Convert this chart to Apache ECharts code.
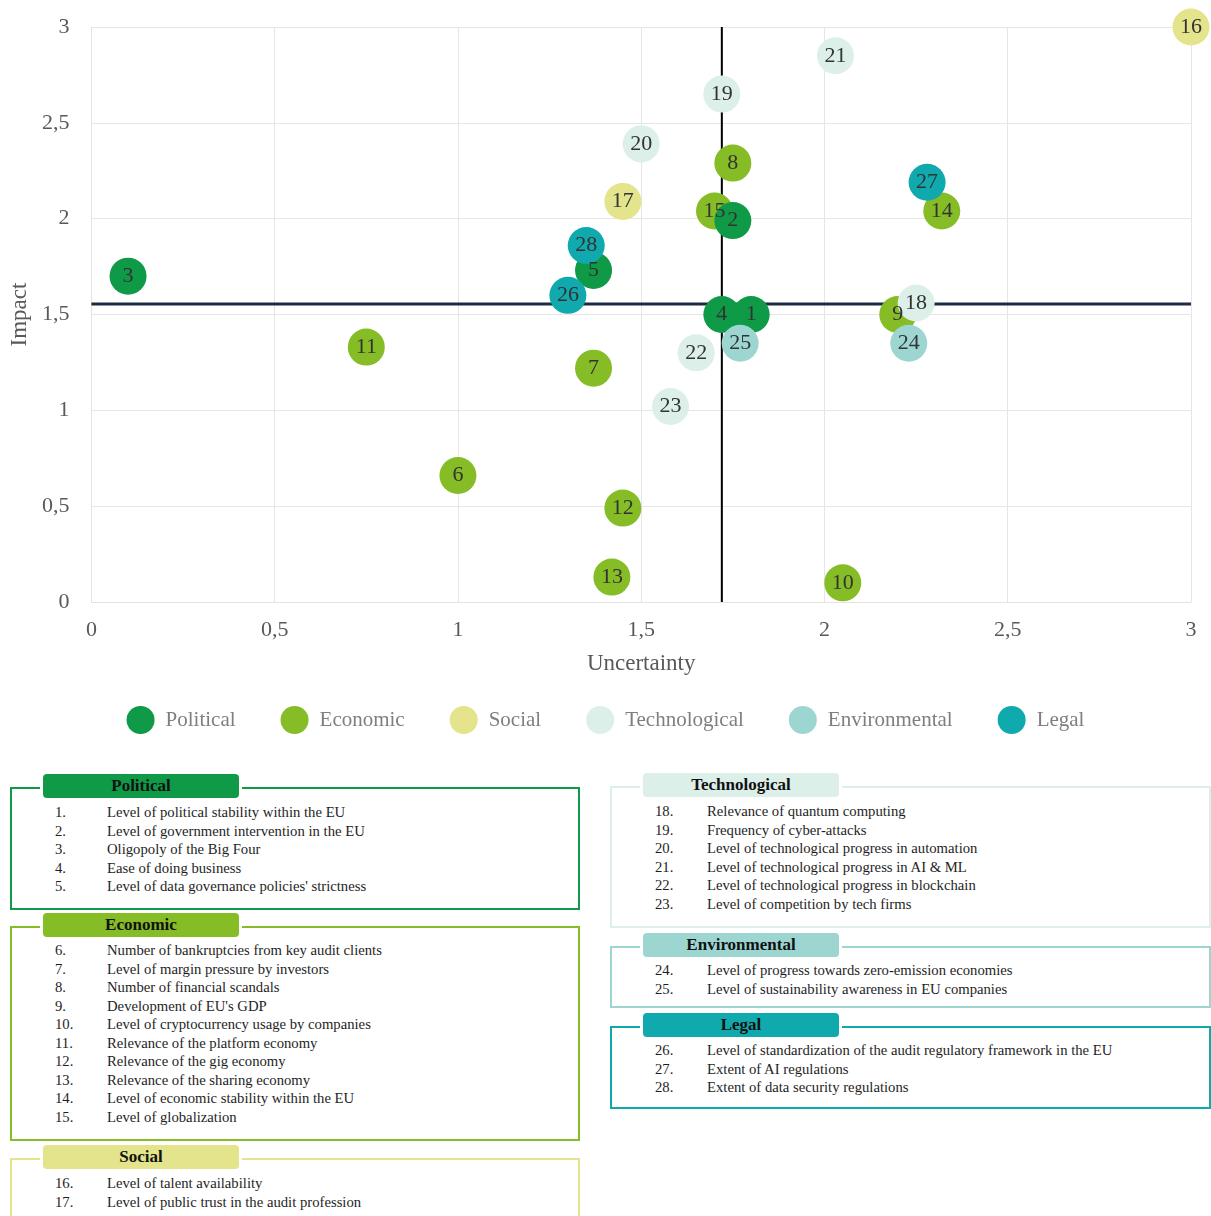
<!DOCTYPE html>
<html>
<head>
<meta charset="utf-8">
<script src="https://cdn.jsdelivr.net/npm/echarts@6/dist/echarts.min.js"></script>
<style>
  html, body { margin: 0; padding: 0; background: #fff; }
  body { width: 1211px; height: 1216px; position: relative; overflow: hidden; font-family: "Liberation Serif", "DejaVu Serif", serif; }
  #chart { position: absolute; left: 0; top: 0; width: 1211px; height: 750px; }
  .box { position: absolute; border: 2px solid; box-sizing: border-box; }
  .tab { position: absolute; width: 196px; height: 24px; border-radius: 4px; box-shadow: 0 0 0 3px #fff;
         font-weight: bold; font-size: 17px; line-height: 24px; text-align: center; color: #111; }
  .row { position: absolute; font-size: 14.7px; line-height: 18px; color: #1e1e1e; white-space: nowrap; }
</style>
</head>
<body>
<div id="chart"></div>
<div id="panels"></div>
<script>
// ---- data ----
const categories = ['Political', 'Economic', 'Social', 'Technological', 'Environmental', 'Legal'];
const categoryColors = ['#0e9a47', '#86bc25', '#e3e48c', '#dcefe9', '#9dd6d1', '#10a9ad'];
const factorIds = [1,2,3,4,5,6,7,8,9,10,11,12,13,14,15,16,17,18,19,20,21,22,23,24,25,26,27,28];
const factorCategory = [0,0,0,0,0,1,1,1,1,1,1,1,1,1,1,2,2,3,3,3,3,3,3,4,4,5,5,5];
const uncertainty = [1.80,1.75,0.10,1.72,1.37,1.00,1.37,1.75,2.20,2.05,0.75,1.45,1.42,2.32,1.70,3.00,1.45,2.25,1.72,1.50,2.03,1.65,1.58,2.23,1.77,1.30,2.28,1.35];
const impact =      [1.50,1.99,1.70,1.50,1.73,0.66,1.22,2.29,1.50,0.10,1.33,0.49,0.13,2.04,2.04,3.00,2.09,1.56,2.65,2.39,2.85,1.30,1.02,1.35,1.35,1.60,2.19,1.86];
const meanUncertainty = 1.72;
const meanImpact = 1.555;
const axisMin = 0;
const axisMax = 3;
const xTicks = ['0','0,5','1','1,5','2','2,5','3'];
const factorNames = [
  'Level of political stability within the EU',
  'Level of government intervention in the EU',
  'Oligopoly of the Big Four',
  'Ease of doing business',
  "Level of data governance policies' strictness",
  'Number of bankruptcies from key audit clients',
  'Level of margin pressure by investors',
  'Number of financial scandals',
  "Development of EU's GDP",
  'Level of cryptocurrency usage by companies',
  'Relevance of the platform economy',
  'Relevance of the gig economy',
  'Relevance of the sharing economy',
  'Level of economic stability within the EU',
  'Level of globalization',
  'Level of talent availability',
  'Level of public trust in the audit profession',
  'Relevance of quantum computing',
  'Frequency of cyber-attacks',
  'Level of technological progress in automation',
  'Level of technological progress in AI & ML',
  'Level of technological progress in blockchain',
  'Level of competition by tech firms',
  'Level of progress towards zero-emission economies',
  'Level of sustainability awareness in EU companies',
  'Level of standardization of the audit regulatory framework in the EU',
  'Extent of AI regulations',
  'Extent of data security regulations'
];

// ---- chart ----
const FONT = 'Liberation Serif';
const drawOrder = [1, 0, 2, 3, 4, 5]; // economic below political, others on top
const series = [
  { type: 'line', name: '_vline', data: [[meanUncertainty, axisMin], [meanUncertainty, axisMax]], z: 1, silent: true,
    symbol: 'none', lineStyle: { color: '#000', width: 2 } },
  { type: 'line', name: '_hline', data: [[axisMin, meanImpact], [axisMax, meanImpact]], z: 1, silent: true,
    symbol: 'none', lineStyle: { color: '#1d2b42', width: 3 } }
];
drawOrder.forEach(function (c) {
  const data = [];
  factorIds.forEach(function (id, i) {
    if (factorCategory[i] === c) data.push({ name: String(id), value: [uncertainty[i], impact[i]] });
  });
  series.push({
    type: 'scatter', name: categories[c], data: data, z: 3,
    symbol: 'circle', symbolSize: 37,
    itemStyle: { color: categoryColors[c], opacity: 1 },
    label: { show: true, position: 'inside', formatter: '{b}', color: '#333', fontFamily: FONT, fontSize: 22 },
    emphasis: { disabled: true }
  });
});

const chart = echarts.init(document.getElementById('chart'), null, { renderer: 'canvas' });
chart.setOption({
  animation: false,
  textStyle: { fontFamily: FONT },
  grid: { left: 89, top: 27, width: 1102, height: 575, containLabel: false },
  xAxis: {
    type: 'value', min: axisMin, max: axisMax, interval: 0.5,
    name: 'Uncertainty', nameLocation: 'middle', nameGap: 50,
    nameTextStyle: { fontFamily: FONT, fontSize: 23, color: '#595959' },
    axisLine: { show: true, lineStyle: { color: '#e3e3e3' } },
    axisTick: { show: false },
    axisLabel: { margin: 17, fontFamily: FONT, fontSize: 22, color: '#595959',
      formatter: function (v) { return xTicks[Math.round(v * 2)]; } },
    splitLine: { show: true, lineStyle: { color: '#e6e6e6' } }
  },
  yAxis: {
    type: 'value', min: axisMin, max: axisMax, interval: 0.5,
    name: 'Impact', nameLocation: 'middle', nameGap: 60,
    nameTextStyle: { fontFamily: FONT, fontSize: 23, color: '#595959' },
    axisLine: { show: true, lineStyle: { color: '#e3e3e3' } },
    axisTick: { show: false },
    axisLabel: { margin: 22, fontFamily: FONT, fontSize: 22, color: '#595959',
      formatter: function (v) { return xTicks[Math.round(v * 2)]; } },
    splitLine: { show: true, lineStyle: { color: '#e6e6e6' } }
  },
  legend: {
    data: categories, top: 701, left: 'center', icon: 'circle',
    itemWidth: 40, itemHeight: 28, itemGap: 45,
    textStyle: { fontFamily: FONT, fontSize: 21, color: '#7f7f7f' },
    selectedMode: false
  },
  series: series
});

// ---- legend panels (HTML text) ----
const panels = [
  { cat: 0, left: 10, width: 570, top: 787, height: 123, first: 812, tabColor: '#0e9a47', border: '#0e9a47', tabText: '#111' },
  { cat: 1, left: 10, width: 570, top: 926, height: 215, first: 950, tabColor: '#86bc25', border: '#86bc25', tabText: '#111' },
  { cat: 2, left: 10, width: 570, top: 1158, height: 80, first: 1183, tabColor: '#e3e48c', border: '#e3e48c', tabText: '#111' },
  { cat: 3, left: 610, width: 601, top: 786, height: 142, first: 811, tabColor: '#dcefe9', border: '#dcefe9', tabText: '#111' },
  { cat: 4, left: 610, width: 601, top: 946, height: 62, first: 970, tabColor: '#9dd6d1', border: '#9dd6d1', tabText: '#111' },
  { cat: 5, left: 610, width: 601, top: 1026, height: 83, first: 1050, tabColor: '#10a9ad', border: '#10a9ad', tabText: '#111' }
];
const holder = document.getElementById('panels');
panels.forEach(function (p) {
  const box = document.createElement('div');
  box.className = 'box';
  box.style.cssText = 'left:' + p.left + 'px;top:' + p.top + 'px;width:' + p.width + 'px;height:' + p.height + 'px;border-color:' + p.border + ';';
  holder.appendChild(box);
  const tab = document.createElement('div');
  tab.className = 'tab';
  tab.style.cssText = 'left:' + (p.left + 33) + 'px;top:' + (p.top - 13) + 'px;background:' + p.tabColor + ';color:' + p.tabText + ';';
  tab.textContent = categories[p.cat];
  holder.appendChild(tab);
  let k = 0;
  factorIds.forEach(function (id, i) {
    if (factorCategory[i] !== p.cat) return;
    const y = p.first + k * 18.5 - 9;
    const num = document.createElement('div');
    num.className = 'row';
    num.style.cssText = 'left:' + (p.left + 45) + 'px;top:' + y + 'px;';
    num.textContent = id + '.';
    holder.appendChild(num);
    const txt = document.createElement('div');
    txt.className = 'row';
    txt.style.cssText = 'left:' + (p.left + 97) + 'px;top:' + y + 'px;';
    txt.textContent = factorNames[i];
    holder.appendChild(txt);
    k++;
  });
});
</script>
</body>
</html>
